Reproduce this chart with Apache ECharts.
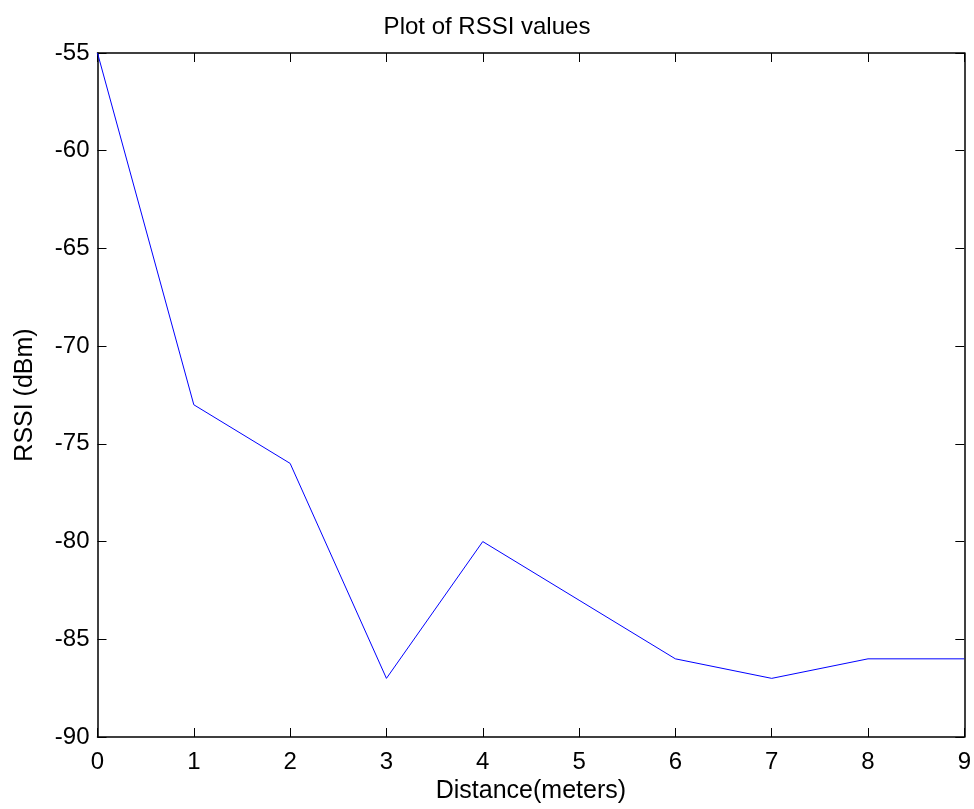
<!DOCTYPE html>
<html>
<head>
<meta charset="utf-8">
<script src="https://cdn.jsdelivr.net/npm/echarts@6/dist/echarts.min.js"></script>
<style>
  html, body { margin: 0; padding: 0; background: #fff; }
  #chart { width: 974px; height: 809px; }
</style>
</head>
<body>
<div id="chart"></div>
<script>
  // distance in meters and measured RSSI
  var distances = [0, 1, 2, 3, 4, 5, 6, 7, 8, 9];
  var rssi = [-55, -73, -76, -87, -80, -83, -86, -87, -86, -86];

  var fontFamily = '"Liberation Sans", Arial, sans-serif';
  var boxLine = { show: true, onZero: false, lineStyle: { color: '#000', width: 1.5 } };
  var inTick = { show: true, inside: true, length: 9, lineStyle: { color: '#000', width: 1 } };

  var chart = echarts.init(document.getElementById('chart'));
  chart.setOption({
    animation: false,
    backgroundColor: '#fff',
    title: {
      text: 'Plot of RSSI values',
      left: 'center',
      top: 10,
      textStyle: { fontFamily: fontFamily, fontSize: 24, fontWeight: 'normal', color: '#000' }
    },
    grid: { left: 97.5, right: 8, top: 53, bottom: 72 },
    xAxis: [{
      type: 'value',
      min: 0, max: 9, interval: 1,
      name: 'Distance(meters)',
      nameLocation: 'middle',
      nameGap: 40,
      nameTextStyle: { fontFamily: fontFamily, fontSize: 25, color: '#000' },
      axisLine: boxLine,
      axisTick: inTick,
      axisLabel: { margin: 13, fontFamily: fontFamily, fontSize: 24, color: '#000' },
      splitLine: { show: false }
    }, {
      type: 'value',
      position: 'top',
      min: 0, max: 9, interval: 1,
      axisLine: boxLine,
      axisTick: inTick,
      axisLabel: { show: false },
      splitLine: { show: false }
    }],
    yAxis: [{
      type: 'value',
      min: -90, max: -55, interval: 5,
      name: 'RSSI (dBm)',
      nameLocation: 'middle',
      nameGap: 60,
      nameTextStyle: { fontFamily: fontFamily, fontSize: 25, color: '#000' },
      axisLine: boxLine,
      axisTick: inTick,
      axisLabel: { margin: 8, fontFamily: fontFamily, fontSize: 24, color: '#000' },
      splitLine: { show: false }
    }, {
      type: 'value',
      position: 'right',
      min: -90, max: -55, interval: 5,
      axisLine: boxLine,
      axisTick: inTick,
      axisLabel: { show: false },
      splitLine: { show: false }
    }],
    series: [{
      type: 'line',
      data: distances.map(function (d, i) { return [d, rssi[i]]; }),
      showSymbol: false,
      lineStyle: { color: '#0000ff', width: 1 },
      itemStyle: { color: '#0000ff' }
    }]
  });
</script>
</body>
</html>
